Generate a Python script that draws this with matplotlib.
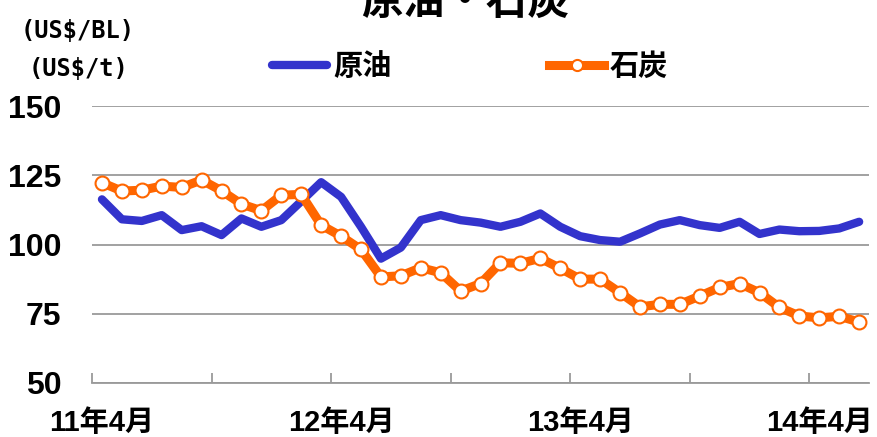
import numpy as np
import matplotlib
matplotlib.use("Agg")
from matplotlib import pyplot as plt
from matplotlib.ticker import FixedLocator, NullFormatter

# monthly, 11年4月 .. 14年6月
oil = [116.3, 109.1, 108.5, 110.6, 105.2, 106.6, 103.4, 109.4, 106.4, 108.8,
       115.6, 122.5, 117.2, 106.4, 94.9, 98.9, 108.8, 110.6, 108.8, 107.9,
       106.4, 108.2, 111.2, 106.4, 103.0, 101.6, 101.0, 104.0, 107.2, 108.8,
       107.0, 106.0, 108.2, 103.8, 105.4, 104.8, 104.9, 105.8, 108.2]
coal = [122.3, 119.3, 119.6, 121.1, 120.6, 123.3, 119.4, 114.6, 112.2, 117.8,
        118.1, 107.0, 103.0, 98.2, 88.3, 88.7, 91.6, 89.8, 83.2, 85.9,
        93.4, 93.2, 95.0, 91.4, 87.5, 87.5, 82.6, 77.5, 78.4, 78.4,
        81.4, 84.5, 85.9, 82.6, 77.3, 74.2, 73.5, 74.1, 72.0]
label_pos = [0, 12, 24, 36]
labels = ["11年4月", "12年4月", "13年4月", "14年4月"]
yticks = [50, 75, 100, 125, 150]

narrow = ['Liberation Sans', 'Noto Sans CJK JP', 'DejaVu Sans']
cjk = ['Noto Sans CJK JP', 'DejaVu Sans']
plt.rcParams['font.family'] = cjk
plt.rcParams['font.weight'] = 'bold'

blue = '#3333cc'
orange = '#ff6600'
gray = '#9a9a9a'

fig = plt.figure(figsize=(8.77, 4.37), dpi=100)
ax = fig.add_axes([0.1049, 0.1236, 0.8861, 0.6338])

x = np.arange(len(oil))
ax.plot(x, oil, color=blue, lw=6, solid_capstyle='round', label='原油', zorder=3)
ax.plot(x, coal, color=orange, lw=6.5, marker='o', ms=10, mfc='white', mec=orange,
        mew=1.5, label='石炭', zorder=4)

ax.set_xlim(-0.5, len(oil) - 0.5)
ax.set_ylim(50, 150)
ax.set_yticks(yticks)
ax.yaxis.grid(True, color=gray, lw=1.3)
ax.set_axisbelow(True)
for s in ['left', 'right', 'top']:
    ax.spines[s].set_visible(False)
ax.spines['bottom'].set_color(gray)
ax.spines['bottom'].set_linewidth(1.3)

ax.xaxis.set_major_locator(FixedLocator(np.arange(-0.5, len(oil) - 1, 6)))
ax.xaxis.set_major_formatter(NullFormatter())
ax.tick_params(axis='x', which='major', direction='in', length=7, width=1.3, color=gray)
ax.set_xticks(label_pos, minor=True)
ax.set_xticklabels(labels, minor=True, family=narrow, fontsize=21, fontweight='bold')
ax.tick_params(axis='x', which='minor', length=0, pad=19)
ax.tick_params(axis='y', length=0, pad=22)
for t in ax.get_yticklabels():
    t.set_family(narrow)
    t.set_fontsize(23)
    t.set_fontweight('bold')

fig.text(0.53, 0.968, '原油・石炭', ha='center', va='baseline', fontsize=30, fontweight='bold')
fig.text(0.088, 0.93, '(US$/BL)', ha='center', va='center', family='DejaVu Sans Mono',
         fontsize=17, fontweight='bold')
fig.text(0.09, 0.843, '(US$/t)', ha='center', va='center', family='DejaVu Sans Mono',
         fontsize=17, fontweight='bold')

leg = fig.legend(loc='center', bbox_to_anchor=(0.536, 0.849), ncol=2, frameon=False,
                 prop={'family': cjk, 'size': 21, 'weight': 'bold'},
                 handlelength=1.9, handletextpad=0.2, columnspacing=5.4, markerscale=0.8)

fig.savefig('out.png', dpi=100)
